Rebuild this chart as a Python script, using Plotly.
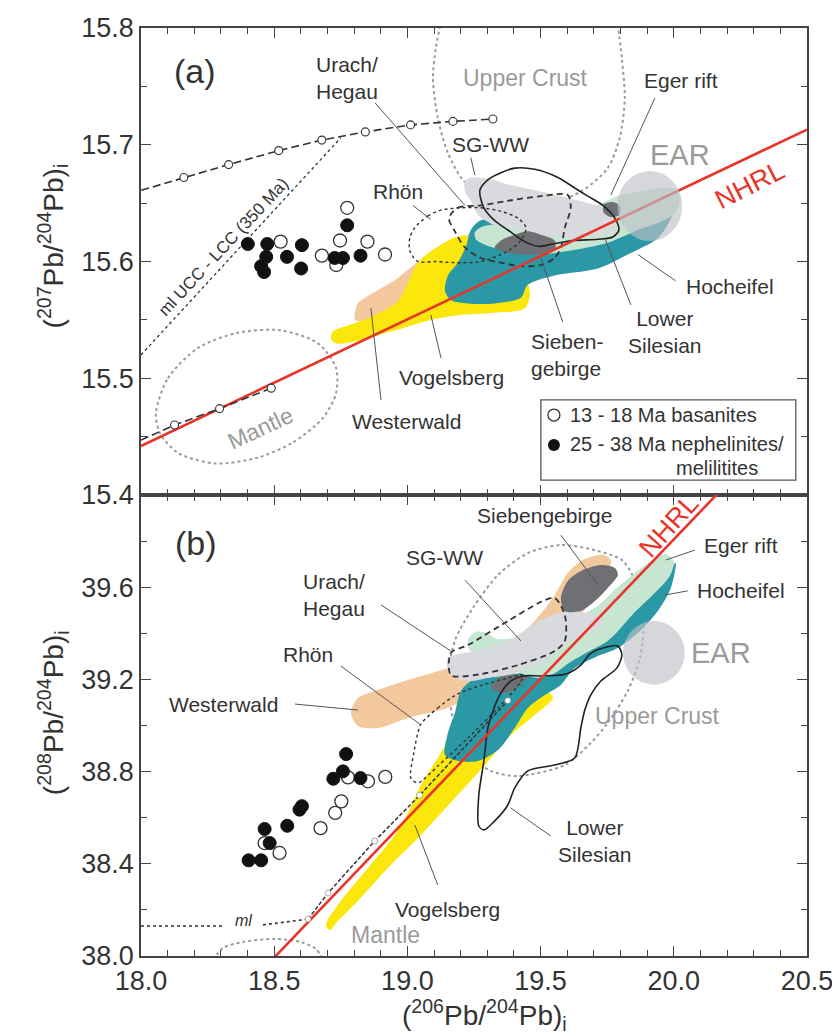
import plotly.graph_objects as go
from plotly.subplots import make_subplots

FONT = "Liberation Sans, Arial, Helvetica, sans-serif"
TXT = "#333333"

# ---------------- colours ----------------
C_TAN = "#f3c89c"
C_YEL = "#fbe70c"
C_TEAL = "#2b98a6"
C_MINT = "#c6e6d2"
C_LGREY = "#d9dadd"
C_DGREY = "#6f7073"
C_EAR = "rgba(190,194,200,0.65)"
C_RED = "#e8352a"

# ================= PANEL (a): 207Pb/204Pb =================
BAS_A_X = [18.524, 18.679, 18.733, 18.747, 18.774, 18.850, 18.916]
BAS_A_Y = [15.617, 15.605, 15.597, 15.618, 15.646, 15.617, 15.606]
NEP_A_X = [18.401, 18.474, 18.470, 18.451, 18.462, 18.548, 18.604, 18.601, 18.727, 18.758, 18.774, 18.824]
NEP_A_Y = [15.615, 15.615, 15.604, 15.596, 15.591, 15.604, 15.614, 15.594, 15.603, 15.603, 15.631, 15.605]

WW_A_X = [18.803, 18.814, 18.871, 18.946, 19.002, 19.058, 19.114, 19.189, 19.265, 19.332, 19.358, 19.302, 19.227, 19.114, 19.002, 18.927, 18.852]
WW_A_Y = [15.550, 15.564, 15.573, 15.583, 15.593, 15.603, 15.612, 15.618, 15.629, 15.642, 15.637, 15.616, 15.599, 15.582, 15.569, 15.560, 15.550]

VB_A_X = [18.713, 18.720, 18.788, 18.878, 18.964, 19.002, 19.039, 19.096, 19.171, 19.220, 19.265, 19.340, 19.433, 19.460, 19.441, 19.328, 19.189, 19.088, 18.938, 18.814, 18.728]
VB_A_Y = [15.534, 15.540, 15.546, 15.554, 15.566, 15.582, 15.599, 15.610, 15.620, 15.622, 15.612, 15.603, 15.590, 15.573, 15.560, 15.556, 15.554, 15.550, 15.540, 15.532, 15.530]

HE_A_X = [19.141, 19.152, 19.189, 19.220, 19.238, 19.272, 19.340, 19.452, 19.602, 19.752, 19.865, 19.959, 19.996, 19.985, 19.940, 19.827, 19.715, 19.553, 19.452, 19.426, 19.328, 19.227, 19.163]
HE_A_Y = [15.575, 15.588, 15.599, 15.613, 15.627, 15.635, 15.637, 15.636, 15.637, 15.642, 15.646, 15.648, 15.643, 15.635, 15.620, 15.606, 15.594, 15.588, 15.580, 15.569, 15.564, 15.564, 15.567]

EG_A_X = [19.253, 19.283, 19.340, 19.501, 19.640, 19.722, 19.790, 19.902, 19.996, 20.022, 20.007, 19.940, 19.876, 19.752, 19.628, 19.501, 19.377, 19.295, 19.257]
EG_A_Y = [15.625, 15.630, 15.632, 15.630, 15.637, 15.649, 15.656, 15.661, 15.663, 15.656, 15.642, 15.633, 15.628, 15.616, 15.610, 15.606, 15.609, 15.614, 15.619]

SG_A_X = [19.216, 19.238, 19.302, 19.377, 19.501, 19.628, 19.715, 19.779, 19.790, 19.779, 19.715, 19.628, 19.501, 19.403, 19.328, 19.265, 19.238, 19.216]
SG_A_Y = [15.669, 15.672, 15.671, 15.666, 15.660, 15.653, 15.648, 15.646, 15.635, 15.626, 15.623, 15.620, 15.623, 15.629, 15.631, 15.640, 15.652, 15.660]

SB_A_X = [19.328, 19.351, 19.403, 19.452, 19.501, 19.553, 19.553, 19.501, 19.426, 19.366]
SB_A_Y = [15.612, 15.618, 15.623, 15.626, 15.623, 15.618, 15.610, 15.606, 15.606, 15.608]
SB2_A_X = [19.737, 19.771, 19.797, 19.797, 19.764, 19.737]
SB2_A_Y = [15.649, 15.651, 15.648, 15.640, 15.638, 15.642]

LS_A_X = [19.272, 19.302, 19.351, 19.403, 19.478, 19.565, 19.628, 19.677, 19.734, 19.779, 19.794, 19.771, 19.715, 19.621, 19.546, 19.490, 19.441, 19.377, 19.328, 19.287]
LS_A_Y = [15.661, 15.670, 15.676, 15.680, 15.679, 15.672, 15.663, 15.656, 15.648, 15.637, 15.627, 15.621, 15.619, 15.618, 15.615, 15.613, 15.617, 15.627, 15.635, 15.646]

UH_A_X = [19.156, 19.189, 19.276, 19.377, 19.501, 19.602, 19.613, 19.591, 19.576, 19.553, 19.501, 19.426, 19.351, 19.276, 19.216, 19.178]
UH_A_Y = [15.637, 15.646, 15.648, 15.652, 15.656, 15.657, 15.646, 15.629, 15.612, 15.603, 15.597, 15.596, 15.599, 15.603, 15.612, 15.626]

RH_A_X = [19.028, 19.077, 19.126, 19.201, 19.276, 19.351, 19.415, 19.445, 19.426, 19.377, 19.276, 19.178, 19.103, 19.039, 19.009, 19.009]
RH_A_Y = [15.629, 15.639, 15.644, 15.646, 15.646, 15.643, 15.637, 15.629, 15.618, 15.609, 15.600, 15.599, 15.600, 15.600, 15.609, 15.620]

UC_A_X = [19.137, 19.107, 19.096, 19.114, 19.152, 19.208, 19.302, 19.415, 19.546, 19.659, 19.752, 19.797, 19.816, 19.805, 19.782]
UC_A_Y = [15.817, 15.783, 15.757, 15.723, 15.693, 15.670, 15.654, 15.648, 15.650, 15.661, 15.680, 15.706, 15.740, 15.774, 15.817]

MA_A_X = [18.056, 18.101, 18.214, 18.364, 18.525, 18.664, 18.732, 18.732, 18.683, 18.570, 18.439, 18.278, 18.139, 18.071]
MA_A_Y = [15.470, 15.500, 15.526, 15.539, 15.541, 15.530, 15.509, 15.487, 15.466, 15.445, 15.432, 15.427, 15.436, 15.453]

EAR_A_X = [19.788, 20.032]
EAR_A_Y = [15.6175, 15.6775]

NHRL_A_X = [18.0, 20.5]
NHRL_A_Y = [15.442, 15.713]

ML_UP_X = [18.001, 18.161, 18.329, 18.517, 18.679, 18.842, 19.012, 19.171, 19.321]
ML_UP_Y = [15.661, 15.672, 15.683, 15.695, 15.704, 15.711, 15.717, 15.720, 15.722]
ML_LO_X = [18.000, 18.126, 18.295, 18.489]
ML_LO_Y = [15.447, 15.460, 15.474, 15.4915]
MIX_X = [18.0, 18.750]
MIX_Y = [15.520, 15.706]

# label pointer segments (x0, x1, y0, y1)
PTR_A = [
    (18.878, 19.216, 15.736, 15.648),   # Urach/Hegau
    (19.021, 19.088, 15.648, 15.636),   # Rhön
    (19.238, 19.253, 15.689, 15.674),   # SG-WW
    (19.929, 19.764, 15.740, 15.657),   # Eger rift
    (19.865, 20.007, 15.606, 15.5834),  # Hocheifel
    (19.741, 19.839, 15.620, 15.5627),  # Lower Silesian
    (19.501, 19.583, 15.603, 15.5482),  # Siebengebirge
    (19.088, 19.126, 15.5542, 15.5173), # Vogelsberg
    (18.863, 18.901, 15.560, 15.4814),  # Westerwald
]

LEG_BOX_X = [19.501, 20.458]
LEG_BOX_Y = [15.4128, 15.4814]
LEG_MK_X = [19.550]
LEG_OPEN_Y = [15.4685]
LEG_FILL_Y = [15.4428]

# ================= PANEL (b): 208Pb/204Pb =================
BAS_B_X = [18.464, 18.520, 18.674, 18.729, 18.752, 18.777, 18.852, 18.917]
BAS_B_Y = [38.490, 38.447, 38.555, 38.621, 38.671, 38.775, 38.758, 38.777]
NEP_B_X = [18.404, 18.451, 18.464, 18.483, 18.549, 18.595, 18.604, 18.722, 18.758, 18.770, 18.824]
NEP_B_Y = [38.415, 38.415, 38.551, 38.490, 38.565, 38.635, 38.650, 38.769, 38.801, 38.876, 38.772]

WW_B_X = [18.788, 18.814, 18.878, 19.002, 19.152, 19.302, 19.452, 19.546, 19.602, 19.659, 19.734, 19.764, 19.745, 19.696, 19.640, 19.527, 19.377, 19.227, 19.152, 19.002, 18.889, 18.814]
WW_B_Y = [39.054, 39.119, 39.150, 39.197, 39.249, 39.315, 39.423, 39.553, 39.662, 39.718, 39.740, 39.718, 39.640, 39.553, 39.466, 39.336, 39.206, 39.119, 39.076, 39.033, 38.989, 38.998]

VB_B_X = [18.694, 18.750, 18.852, 18.953, 19.002, 19.051, 19.114, 19.171, 19.265, 19.415, 19.516, 19.546, 19.478, 19.388, 19.291, 19.178, 19.051, 18.927, 18.814, 18.739, 18.709]
VB_B_Y = [38.135, 38.239, 38.382, 38.525, 38.620, 38.742, 38.859, 38.959, 39.054, 39.119, 39.154, 39.119, 39.046, 38.959, 38.829, 38.685, 38.525, 38.382, 38.239, 38.152, 38.113]

HE_B_X = [19.141, 19.152, 19.178, 19.201, 19.246, 19.377, 19.527, 19.659, 19.741, 19.801, 19.865, 19.929, 19.985, 20.007, 19.989, 19.940, 19.865, 19.790, 19.715, 19.628, 19.576, 19.516, 19.452, 19.403, 19.340, 19.265, 19.189]
HE_B_Y = [38.872, 38.967, 39.054, 39.150, 39.197, 39.219, 39.249, 39.323, 39.367, 39.436, 39.540, 39.627, 39.683, 39.705, 39.597, 39.497, 39.401, 39.336, 39.301, 39.249, 39.176, 39.132, 39.076, 38.989, 38.894, 38.846, 38.846]

EG_B_X = [19.227, 19.253, 19.290, 19.340, 19.452, 19.602, 19.715, 19.779, 19.854, 19.921, 19.966, 20.000, 19.985, 19.921, 19.854, 19.801, 19.752, 19.677, 19.613, 19.546, 19.490, 19.377, 19.283, 19.234]
EG_B_Y = [39.371, 39.405, 39.405, 39.375, 39.390, 39.450, 39.520, 39.590, 39.662, 39.718, 39.744, 39.714, 39.649, 39.566, 39.492, 39.423, 39.367, 39.319, 39.276, 39.223, 39.206, 39.249, 39.301, 39.328]

SG_B_X = [19.152, 19.178, 19.253, 19.328, 19.403, 19.452, 19.516, 19.602, 19.704, 19.741, 19.704, 19.628, 19.576, 19.516, 19.452, 19.377, 19.302, 19.238, 19.178, 19.152]
SG_B_Y = [39.293, 39.306, 39.323, 39.349, 39.380, 39.423, 39.466, 39.497, 39.479, 39.453, 39.410, 39.380, 39.336, 39.280, 39.249, 39.219, 39.206, 39.193, 39.206, 39.236]

SB_B_X = [19.576, 19.602, 19.651, 19.726, 19.779, 19.790, 19.752, 19.704, 19.651, 19.591]
SB_B_Y = [39.553, 39.627, 39.670, 39.696, 39.683, 39.653, 39.597, 39.540, 39.497, 39.497]
SB2_B_X = [19.313, 19.340, 19.403, 19.452, 19.426, 19.366]
SB2_B_Y = [39.163, 39.206, 39.219, 39.215, 39.176, 39.141]

LS_B_X = [19.302, 19.325, 19.351, 19.388, 19.433, 19.508, 19.595, 19.651, 19.685, 19.734, 19.790, 19.805, 19.786, 19.726, 19.688, 19.666, 19.651, 19.628, 19.553, 19.452, 19.403, 19.377, 19.328, 19.287, 19.268, 19.268, 19.287]
LS_B_Y = [38.989, 39.076, 39.141, 39.193, 39.215, 39.215, 39.223, 39.262, 39.310, 39.336, 39.345, 39.306, 39.249, 39.193, 39.132, 39.067, 38.989, 38.859, 38.829, 38.803, 38.729, 38.655, 38.586, 38.547, 38.564, 38.698, 38.846]

UC_B_X = [19.576, 19.715, 19.809, 19.865, 19.887, 19.873, 19.827, 19.752, 19.688, 19.591, 19.415, 19.313, 19.227, 19.171, 19.152, 19.178, 19.246, 19.340, 19.452]
UC_B_Y = [39.783, 39.757, 39.714, 39.597, 39.445, 39.293, 39.150, 39.011, 38.924, 38.829, 38.781, 38.803, 38.881, 39.033, 39.193, 39.367, 39.510, 39.653, 39.748]

UH_B_X = [19.163, 19.227, 19.377, 19.501, 19.553, 19.591, 19.591, 19.553, 19.415, 19.253, 19.163]
UH_B_Y = [39.315, 39.349, 39.453, 39.536, 39.553, 39.479, 39.367, 39.323, 39.262, 39.219, 39.219]

RH_B_X = [19.051, 19.114, 19.189, 19.283, 19.377, 19.433, 19.422, 19.340, 19.227, 19.114, 19.039, 19.013, 19.024, 19.039]
RH_B_Y = [39.007, 39.076, 39.137, 39.176, 39.206, 39.219, 39.184, 39.076, 38.946, 38.824, 38.751, 38.772, 38.881, 38.967]

MA_B_X = [18.270, 18.308, 18.383, 18.503, 18.600, 18.657, 18.683]
MA_B_Y = [37.983, 38.035, 38.061, 38.074, 38.061, 38.030, 37.983]

EAR_B_X = [19.809, 20.041]
EAR_B_Y = [39.177, 39.453]

NHRL_B_X = [18.49, 20.17]
NHRL_B_Y = [37.981, 40.013]

ML_B1_X = [18.0, 18.308]
ML_B1_Y = [38.130, 38.130]
ML_B2_X = [18.458, 18.627]
ML_B2_Y = [38.135, 38.160]
ML_B3_X = [18.627, 18.702, 18.877, 19.046, 19.377]
ML_B3_Y = [38.160, 38.273, 38.499, 38.697, 39.108]

PTR_B = [
    (19.576, 19.715, 39.826, 39.610),  # Siebengebirge
    (19.216, 19.426, 39.631, 39.367),  # SG-WW
    (18.901, 19.163, 39.523, 39.323),  # Urach/Hegau
    (18.750, 19.051, 39.258, 39.002),  # Rhön
    (18.578, 18.814, 39.093, 39.067),  # Westerwald
    (20.079, 19.970, 39.761, 39.718),  # Eger rift
    (20.052, 19.966, 39.584, 39.566),  # Hocheifel
    (19.538, 19.388, 38.521, 38.642),  # Lower Silesian
    (19.114, 19.028, 38.308, 38.568),  # Vogelsberg
]

# tick values
X_TICKS = [18.0, 18.5, 19.0, 19.5, 20.0, 20.5]
YA_TICKS = [15.4, 15.5, 15.6, 15.7, 15.8]
YB_TICKS = [38.0, 38.4, 38.8, 39.2, 39.6]

# ============================================================
fig = make_subplots(rows=2, cols=1, shared_xaxes=True, vertical_spacing=0,
                    row_heights=[467, 461])


def closed(xs, ys):
    return list(xs) + [xs[0]], list(ys) + [ys[0]]


def region(xs, ys, color, row):
    cx, cy = closed(xs, ys)
    fig.add_trace(go.Scatter(x=cx, y=cy, mode="lines", fill="toself", fillcolor=color,
                             line=dict(width=0, shape="spline", smoothing=0.8, color=color),
                             hoverinfo="skip"), row=row, col=1)


def outline(xs, ys, color, width, dash, row, close=True):
    cx, cy = closed(xs, ys) if close else (xs, ys)
    fig.add_trace(go.Scatter(x=cx, y=cy, mode="lines",
                             line=dict(width=width, color=color, dash=dash, shape="spline", smoothing=0.8),
                             hoverinfo="skip"), row=row, col=1)


def line(xs, ys, color, width, dash, row):
    fig.add_trace(go.Scatter(x=xs, y=ys, mode="lines",
                             line=dict(width=width, color=color, dash=dash),
                             hoverinfo="skip"), row=row, col=1)


def ellipse(xr, yr, row):
    xref = "x" if row == 1 else "x2"
    yref = "y" if row == 1 else "y2"
    fig.add_shape(type="circle", xref=xref, yref=yref, x0=xr[0], x1=xr[1], y0=yr[0], y1=yr[1],
                  fillcolor=C_EAR, line=dict(width=0), layer="above")


# ---------- panel (a) ----------
outline(UC_A_X, UC_A_Y, "#9a9a9a", 2, "dot", 1, close=False)
outline(MA_A_X, MA_A_Y, "#9a9a9a", 2, "dot", 1)
region(WW_A_X, WW_A_Y, C_TAN, 1)
region(VB_A_X, VB_A_Y, C_YEL, 1)
region(HE_A_X, HE_A_Y, C_TEAL, 1)
region(EG_A_X, EG_A_Y, C_MINT, 1)
region(SG_A_X, SG_A_Y, C_LGREY, 1)
region(SB_A_X, SB_A_Y, C_DGREY, 1)
region(SB2_A_X, SB2_A_Y, C_DGREY, 1)
outline(LS_A_X, LS_A_Y, "#222222", 1.6, "solid", 1)
outline(UH_A_X, UH_A_Y, "#333333", 1.8, "6px,4px", 1)
outline(RH_A_X, RH_A_Y, "#333333", 1.4, "dot", 1)
line(MIX_X, MIX_Y, "#333333", 1.3, "dot", 1)
line(NHRL_A_X, NHRL_A_Y, C_RED, 2.6, "solid", 1)
fig.add_trace(go.Scatter(x=ML_UP_X, y=ML_UP_Y, mode="lines", line=dict(color="#333", width=1.6, dash="8px,4px"),
                         hoverinfo="skip"), row=1, col=1)
fig.add_trace(go.Scatter(x=ML_UP_X[1:], y=ML_UP_Y[1:], mode="markers",
                         marker=dict(size=8, color="white", line=dict(color="#333", width=1.1)),
                         hoverinfo="skip"), row=1, col=1)
fig.add_trace(go.Scatter(x=ML_LO_X, y=ML_LO_Y, mode="lines", line=dict(color="#333", width=1.6, dash="8px,4px"),
                         hoverinfo="skip"), row=1, col=1)
fig.add_trace(go.Scatter(x=ML_LO_X[1:], y=ML_LO_Y[1:], mode="markers",
                         marker=dict(size=8, color="white", line=dict(color="#333", width=1.1)),
                         hoverinfo="skip"), row=1, col=1)
for (x0, x1, y0, y1) in PTR_A:
    line([x0, x1], [y0, y1], "#555555", 1, "solid", 1)
fig.add_trace(go.Scatter(x=BAS_A_X, y=BAS_A_Y, mode="markers",
                         marker=dict(size=13, color="white", line=dict(color="#333", width=1.3)),
                         hoverinfo="skip"), row=1, col=1)
fig.add_trace(go.Scatter(x=NEP_A_X, y=NEP_A_Y, mode="markers",
                         marker=dict(size=13, color="#111", line=dict(color="#111", width=1)),
                         hoverinfo="skip"), row=1, col=1)
ellipse(EAR_A_X, EAR_A_Y, 1)

# legend box
fig.add_shape(type="rect", xref="x", yref="y", x0=LEG_BOX_X[0], x1=LEG_BOX_X[1],
              y0=LEG_BOX_Y[0], y1=LEG_BOX_Y[1], line=dict(color="#555", width=1.3),
              fillcolor="white", layer="below")
fig.add_trace(go.Scatter(x=LEG_MK_X, y=LEG_OPEN_Y, mode="markers",
                         marker=dict(size=12, color="white", line=dict(color="#333", width=1.3)),
                         hoverinfo="skip"), row=1, col=1)
fig.add_trace(go.Scatter(x=LEG_MK_X, y=LEG_FILL_Y, mode="markers",
                         marker=dict(size=12, color="#111"), hoverinfo="skip"), row=1, col=1)

# ---------- panel (b) ----------
outline(UC_B_X, UC_B_Y, "#9a9a9a", 2, "dot", 2)
outline(MA_B_X, MA_B_Y, "#9a9a9a", 2, "dot", 2, close=False)
region(WW_B_X, WW_B_Y, C_TAN, 2)
region(VB_B_X, VB_B_Y, C_YEL, 2)
region(HE_B_X, HE_B_Y, C_TEAL, 2)
region(EG_B_X, EG_B_Y, C_MINT, 2)
region(SG_B_X, SG_B_Y, C_LGREY, 2)
region(SB_B_X, SB_B_Y, C_DGREY, 2)
region(SB2_B_X, SB2_B_Y, C_DGREY, 2)
outline(UH_B_X, UH_B_Y, "#333333", 1.8, "6px,4px", 2)
outline(RH_B_X, RH_B_Y, "#333333", 1.4, "dot", 2)
outline(LS_B_X, LS_B_Y, "#222222", 1.6, "solid", 2)
line(NHRL_B_X, NHRL_B_Y, C_RED, 2.6, "solid", 2)
line(ML_B1_X, ML_B1_Y, "#333333", 1.6, "dot", 2)
line(ML_B2_X, ML_B2_Y, "#333333", 1.6, "dot", 2)
fig.add_trace(go.Scatter(x=ML_B3_X, y=ML_B3_Y, mode="lines+markers",
                         line=dict(color="#333", width=1.5, dash="4px,2px"),
                         marker=dict(size=6, color="white", line=dict(color="#777", width=0.6)),
                         hoverinfo="skip"), row=2, col=1)
for (x0, x1, y0, y1) in PTR_B:
    line([x0, x1], [y0, y1], "#555555", 1, "solid", 2)
fig.add_trace(go.Scatter(x=BAS_B_X, y=BAS_B_Y, mode="markers",
                         marker=dict(size=13, color="white", line=dict(color="#333", width=1.3)),
                         hoverinfo="skip"), row=2, col=1)
fig.add_trace(go.Scatter(x=NEP_B_X, y=NEP_B_Y, mode="markers",
                         marker=dict(size=13, color="#111", line=dict(color="#111", width=1)),
                         hoverinfo="skip"), row=2, col=1)
ellipse(EAR_B_X, EAR_B_Y, 2)

# ---------- annotations ----------
def label(text, x, y, row, size=21, color=TXT, angle=0, align="center", xanchor="center", italic=False):
    xref = "x" if row == 1 else "x2"
    yref = "y" if row == 1 else "y2"
    if italic:
        text = "<i>" + text + "</i>"
    fig.add_annotation(text=text, x=x, y=y, xref=xref, yref=yref, showarrow=False,
                       font=dict(family=FONT, size=size, color=color), textangle=angle,
                       align=align, xanchor=xanchor, yanchor="middle")


GREY_T = "#9a9a9a"
label("(a)", 18.203, 15.763, 1, size=34)
label("Urach/<br>Hegau", 18.649, 15.757, 1, align="left", xanchor="left")
label("Upper Crust", 19.445, 15.757, 1, size=23, color=GREY_T)
label("Eger rift", 20.026, 15.755, 1)
label("SG-WW", 19.313, 15.700, 1)
label("EAR", 20.022, 15.691, 1, size=29, color=GREY_T)
label("NHRL", 20.286, 15.6655, 1, size=27, color=C_RED, angle=-27)
label("Rhön", 18.964, 15.660, 1)
label("Hocheifel", 20.210, 15.579, 1)
label("Lower<br>Silesian", 19.966, 15.540, 1)
label("Sieben-<br>gebirge", 19.456, 15.520, 1, align="left", xanchor="left")
label("Vogelsberg", 19.167, 15.501, 1)
label("Westerwald", 18.998, 15.463, 1)
label("Mantle", 18.450, 15.457, 1, size=23, color=GREY_T, angle=-25)
label("ml UCC - LCC (350 Ma)", 18.308, 15.612, 1, size=17, angle=-47)
label("13 - 18 Ma basanites", 19.602, 15.4685, 1, size=20, xanchor="left")
label("25 - 38 Ma nephelinites/", 19.602, 15.4435, 1, size=20, xanchor="left")
label("melilitites", 20.323, 15.4235, 1, size=20, xanchor="right")

label("(b)", 18.206, 39.792, 2, size=34)
label("Siebengebirge", 19.516, 39.909, 2)
label("SG-WW", 19.141, 39.727, 2)
label("Eger rift", 20.251, 39.779, 2)
label("Hocheifel", 20.251, 39.584, 2)
label("Urach/<br>Hegau", 18.600, 39.566, 2, align="left", xanchor="left")
label("Rhön", 18.627, 39.306, 2)
label("Westerwald", 18.308, 39.093, 2)
label("EAR", 20.176, 39.315, 2, size=29, color=GREY_T)
label("Upper Crust", 19.940, 39.041, 2, size=23, color=GREY_T)
label("Lower<br>Silesian", 19.704, 38.499, 2)
label("Vogelsberg", 19.152, 38.200, 2)
label("Mantle", 18.919, 38.091, 2, size=23, color=GREY_T)
label("ml", 18.383, 38.152, 2, size=16, italic=True)
label("NHRL", 19.981, 39.866, 2, size=27, color=C_RED, angle=-48)

# axis titles
fig.add_annotation(text="(<sup>207</sup>Pb/<sup>204</sup>Pb)<sub>i</sub>", xref="paper", yref="y",
                   x=-0.132, y=15.613, textangle=-90, showarrow=False,
                   font=dict(family=FONT, size=28, color=TXT), xanchor="center", yanchor="middle")
fig.add_annotation(text="(<sup>208</sup>Pb/<sup>204</sup>Pb)<sub>i</sub>", xref="paper", yref="y2",
                   x=-0.132, y=39.054, textangle=-90, showarrow=False,
                   font=dict(family=FONT, size=28, color=TXT), xanchor="center", yanchor="middle")
fig.add_annotation(text="(<sup>206</sup>Pb/<sup>204</sup>Pb)<sub>i</sub>", xref="x2", yref="paper",
                   x=19.291, y=-0.064, showarrow=False,
                   font=dict(family=FONT, size=28, color=TXT), xanchor="center", yanchor="middle")

# ---------- axes ----------
axis_common = dict(showline=True, linecolor="#444", linewidth=1.5, mirror="allticks",
                   ticks="inside", ticklen=10, tickwidth=1.3, tickcolor="#444",
                   showgrid=False, zeroline=False, automargin=False,
                   tickfont=dict(family=FONT, size=27, color=TXT))
fig.update_xaxes(range=[18.0, 20.5], tickvals=X_TICKS, tickformat=".1f",
                 minor=dict(dtick=0.1, tick0=18.0, ticks="inside", ticklen=6, tickcolor="#444", tickwidth=1.2),
                 **axis_common)
fig.update_xaxes(showticklabels=False, row=1, col=1)
fig.update_xaxes(showticklabels=True, row=2, col=1)
fig.update_yaxes(range=[15.4, 15.8], tickvals=YA_TICKS, tickformat=".1f",
                 minor=dict(dtick=0.05, tick0=15.4, ticks="inside", ticklen=6, tickcolor="#444", tickwidth=1.2),
                 row=1, col=1, **axis_common)
fig.update_yaxes(range=[38.0, 40.0], tickvals=YB_TICKS, tickformat=".1f",
                 minor=dict(dtick=0.2, tick0=38.0, ticks="inside", ticklen=6, tickcolor="#444", tickwidth=1.2),
                 row=2, col=1, **axis_common)

fig.update_layout(width=840, height=1036, showlegend=False,
                  margin=dict(l=133, r=41, t=20, b=88, autoexpand=False),
                  plot_bgcolor="white", paper_bgcolor="white",
                  font=dict(family=FONT, color=TXT))

fig.write_html("out.html")
